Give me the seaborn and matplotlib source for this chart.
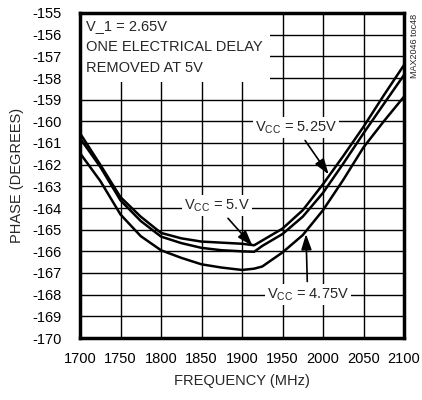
import numpy as np
import pandas as pd
import matplotlib
matplotlib.use("Agg")
import matplotlib.pyplot as plt
import seaborn as sns
from matplotlib import font_manager

# phase vs frequency, 3 supply voltages
freq = [1700, 1725, 1750, 1775, 1800, 1825, 1850, 1875, 1900, 1915, 1925,
        1950, 1975, 2000, 2025, 2050, 2075, 2100]
phase_525 = [-160.55, -162.0, -163.5, -164.4, -165.15, -165.4, -165.55, -165.6,
             -165.65, -165.72, -165.5, -164.95, -164.1, -162.9, -161.6,
             -160.25, -158.8, -157.4]
phase_500 = [-160.78, -162.1, -163.65, -164.6, -165.32, -165.62, -165.84, -165.95,
             -166.0, -166.02, -165.75, -165.2, -164.4, -163.3, -161.95,
             -160.55, -159.2, -157.86]
phase_475 = [-161.47, -162.75, -164.3, -165.3, -165.95, -166.3, -166.6, -166.75,
             -166.86, -166.8, -166.7, -166.05, -165.25, -164.1, -162.7,
             -161.2, -160.0, -158.86]
vcc = ["5.25V", "5V", "4.75V"]

df = pd.concat([
    pd.DataFrame({"freq": freq, "phase": p, "vcc": v})
    for p, v in zip([phase_525, phase_500, phase_475], vcc)
])

sns.set_style("white")
names = {f.name for f in font_manager.fontManager.ttflist}
fam = "Liberation Sans Narrow" if "Liberation Sans Narrow" in names else "Liberation Sans"
plt.rcParams["font.family"] = [fam, "DejaVu Sans"]
plt.rcParams["mathtext.fontset"] = "custom"
plt.rcParams["mathtext.rm"] = fam
plt.rcParams["axes.unicode_minus"] = False

fig = plt.figure(figsize=(4.22, 4.0), dpi=100)
ax = fig.add_axes([0.1896, 0.155, 0.7678, 0.8125])

sns.lineplot(data=df, x="freq", y="phase", hue="vcc", palette=["black"] * 3,
             linewidth=1.8, legend=False, ax=ax, zorder=3)

ax.set_xlim(1700, 2100)
ax.set_ylim(-170, -155)
ax.set_xticks(np.arange(1700, 2101, 50))
ax.set_yticks(np.arange(-170, -154, 1))
ax.set_axisbelow(True)
ax.grid(True, color="black", linewidth=1.0)
for s in ax.spines.values():
    s.set_color("black")
    s.set_linewidth(2.5)
ax.tick_params(length=0, labelsize=10.5, colors="black")
ax.tick_params(axis="y", pad=13)
ax.tick_params(axis="x", pad=10)
ax.set_xlabel("FREQUENCY (MHz)", fontsize=10.5, labelpad=6)
ax.set_ylabel("PHASE (DEGREES)", fontsize=10.5, labelpad=6)

ax.text(1708, -155.3, "V_1 = 2.65V\nONE ELECTRICAL DELAY\nREMOVED AT 5V",
        fontsize=10.5, va="top", ha="left", linespacing=1.6, zorder=2,
        bbox=dict(facecolor="white", edgecolor="none", pad=5))

lab = dict(fontsize=10.5, ha="center", va="center", zorder=4,
           bbox=dict(facecolor="white", edgecolor="none", pad=1.5))
arr = dict(arrowstyle="-|>,head_length=0.9,head_width=0.3", color="black", lw=1.2,
           shrinkA=2, shrinkB=0)
ax.annotate(r"V$_{\mathregular{CC}}$ = 5.25V", xy=(2007, -162.45), xytext=(1967, -160.3),
            arrowprops=arr, **lab)
ax.annotate(r"V$_{\mathregular{CC}}$ = 5.V", xy=(1913, -165.75), xytext=(1869, -163.9),
            arrowprops=arr, **lab)
ax.annotate(r"V$_{\mathregular{CC}}$ = 4.75V", xy=(1979, -165.2), xytext=(1981, -168.0),
            arrowprops=arr, **lab)

fig.text(0.982, 0.965, "MAX2046 toc48", rotation=90, fontsize=6.5, ha="center", va="top")

fig.savefig("out.png", dpi=100)
